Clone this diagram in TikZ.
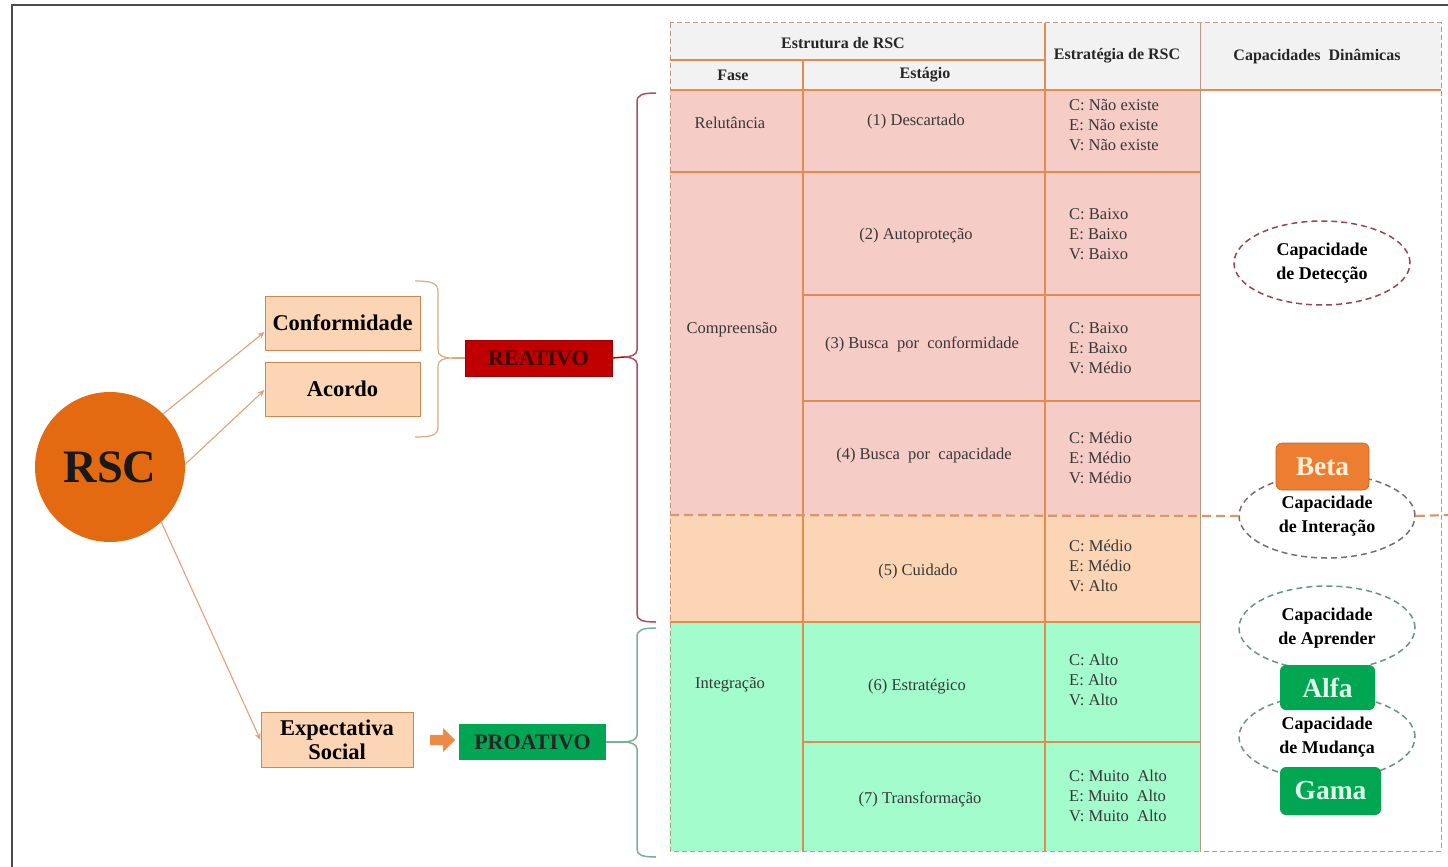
\documentclass[tikz,border=0pt]{standalone}
\usepackage{fontspec}
\setmainfont{Liberation Serif}
\usetikzlibrary{arrows.meta,shapes.arrows,shapes.geometric,calc}
\definecolor{peach}{RGB}{252,213,180}
\definecolor{boxline}{RGB}{205,135,85}
\definecolor{pinkc}{RGB}{246,204,198}
\definecolor{greenc}{RGB}{163,252,204}
\definecolor{hdrgray}{RGB}{242,242,242}
\definecolor{gridor}{RGB}{228,140,80}
\definecolor{dashbr}{RGB}{190,150,130}
\definecolor{darkred}{RGB}{192,0,0}
\definecolor{dgreen}{RGB}{0,166,81}
\definecolor{orng}{RGB}{237,125,49}
\definecolor{rscor}{RGB}{228,106,18}
\definecolor{arrowc}{RGB}{225,160,120}
\definecolor{bracetan}{RGB}{215,170,130}
\definecolor{bracered}{RGB}{170,80,95}
\definecolor{bracegrn}{RGB}{120,175,150}
\definecolor{celltext}{RGB}{55,55,55}
\definecolor{sepdash}{RGB}{215,150,110}
\definecolor{elldet}{RGB}{150,70,80}
\definecolor{ellint}{RGB}{120,110,105}
\definecolor{ellgrn}{RGB}{100,150,130}
\definecolor{betatext}{RGB}{255,240,220}
\definecolor{greentext}{RGB}{225,255,235}
\definecolor{reattext}{RGB}{60,5,5}
\begin{document}
\begin{tikzpicture}[x=1pt,y=-1pt,
  lbox/.style={draw=boxline,line width=1pt,fill=peach,inner sep=0pt,font=\fontsize{22.5}{24}\selectfont\bfseries,align=center},
  tag/.style={inner sep=0pt,font=\fontsize{22}{24}\selectfont\bfseries,text=black!85},
  hdr/.style={inner sep=0pt,font=\fontsize{16}{18}\selectfont\bfseries,text=black!85},
  cell/.style={inner sep=0pt,font=\fontsize{16.5}{18}\selectfont,text=celltext},
  strat/.style={inner sep=0pt,anchor=west,align=left,font=\fontsize{16.5}{20}\selectfont,text=celltext},
  grid/.style={draw=gridor,line width=1.1pt},
  tdash/.style={draw=dashbr,line width=1pt,dash pattern=on 5pt off 3pt},
  capell/.style={ellipse,draw,line width=1.5pt,dash pattern=on 6pt off 4pt,minimum width=176,minimum height=84,inner sep=0pt,align=center,font=\fontsize{18}{24}\selectfont\bfseries},
  badge/.style={rounded corners=6pt,inner sep=0pt,font=\fontsize{27.5}{30}\selectfont\bfseries},
  conn/.style={draw=arrowc,line width=1.1pt,-{Stealth[length=7pt,width=6pt]}},
  sep/.style={draw=sepdash,line width=2.2pt,dash pattern=on 9pt off 5pt}
]
\useasboundingbox (0,0) rectangle (1448,867);
% outer frame
\draw[line width=2.5pt,black!70] (12,867) -- (12,5) -- (1448,5);

% ---------- table fills ----------
\fill[hdrgray] (670,23) rectangle (1441,90);
\fill[pinkc] (670,90) rectangle (1200,515);
\fill[peach] (670,515) rectangle (1200,622);
\fill[greenc] (670,622) rectangle (1200,851);

% grid lines
\draw[grid] (670,60) -- (1045,60);
\draw[grid] (670,90) -- (1441,90);
\draw[grid] (670,172) -- (1200,172);
\draw[grid] (803,295) -- (1200,295);
\draw[grid] (803,401) -- (1200,401);
\draw[grid] (670,622) -- (1200,622);
\draw[grid] (803,742) -- (1200,742);
\draw[grid] (803,60) -- (803,851);
\draw[grid] (1045,23) -- (1045,851);

% dashed table borders
\draw[tdash] (670,23) rectangle (1200,851);
\draw[tdash] (1200,23) rectangle (1441,851);

% ---------- header text ----------
\node[hdr] (hEst) at (843,43) {Estrutura de RSC};
\node[hdr] (hFase) at (733,75) {Fase};
\node[hdr] (hEtg) at (925,75) {Estágio};
\node[hdr] (hStr) at (1117,56) {Estratégia de RSC};
\node[hdr] (hCap) at (1317,57) {Capacidades\ \ Dinâmicas};

% ---------- fase ----------
\node[cell] (f1) at (730,123) {Relutância};
\node[cell] (f2) at (732,330) {Compreensão};
\node[cell] (f3) at (730,685) {Integração};

% ---------- estagio ----------
\node[cell] (s1) at (916,122) {(1) Descartado};
\node[cell] (s2) at (916,236) {(2) Autoproteção};
\node[cell] (s3) at (922,344) {(3) Busca\ \ por\ \ conformidade};
\node[cell] (s4) at (924,456) {(4) Busca\ \ por\ \ capacidade};
\node[cell] (s5) at (918,572) {(5) Cuidado};
\node[cell] (s6) at (917,687) {(6) Estratégico};
\node[cell] (s7) at (920,799) {(7) Transformação};

% ---------- estrategia ----------
\node[strat] (e1) at (1069,125) {C: Não existe\\E: Não existe\\V: Não existe};
\node[strat] (e2) at (1069,234) {C: Baixo\\E: Baixo\\V: Baixo};
\node[strat] (e3) at (1069,348) {C: Baixo\\E: Baixo\\V: Médio};
\node[strat] (e4) at (1069,458) {C: Médio\\E: Médio\\V: Médio};
\node[strat] (e5) at (1069,566) {C: Médio\\E: Médio\\V: Alto};
\node[strat] (e6) at (1069,680) {C: Alto\\E: Alto\\V: Alto};
\node[strat] (e7) at (1069,796) {C: Muito\ \ Alto\\E: Muito\ \ Alto\\V: Muito\ \ Alto};

% ---------- capacidades ----------
\node[capell,draw=elldet] (cDet) at (1322,263) {Capacidade\\de Detecção};
\node[capell,draw=ellint] (cInt) at (1327,516) {Capacidade\\de Interação};
\node[capell,draw=ellgrn] (cApr) at (1327,628) {Capacidade\\de Aprender};
\node[capell,draw=ellgrn] (cMud) at (1327,737) {Capacidade\\de Mudança};

% dashed separator between phases
\coordinate (dL) at (670,515);
\coordinate (dR) at (1448,515);
\draw[sep] (dL) -- (cInt.west);
\draw[sep] (cInt.east) -- (dR);

\node[badge,fill=orng,draw=orng!80!black,line width=0.6pt,minimum width=93,minimum height=47,text=betatext] (beta) at (1322.5,466.5) {Beta};
\node[badge,fill=dgreen,minimum width=95,minimum height=45,text=greentext] (alfa) at (1327.5,687.5) {Alfa};
\node[badge,fill=dgreen,minimum width=101,minimum height=48,text=greentext] (gama) at (1330.5,791) {Gama};

% ---------- left part ----------
\node[circle,fill=rscor,minimum size=150,inner sep=0pt,font=\fontsize{46.5}{50}\selectfont\bfseries,text=black!90] (rsc) at (110,467) {RSC};
\node[lbox,minimum width=155,minimum height=54] (conf) at (342.5,323) {Conformidade};
\node[lbox,minimum width=155,minimum height=54] (acor) at (342.5,389) {Acordo};
\node[lbox,minimum width=152,minimum height=55,font=\fontsize{22.5}{24}\selectfont\bfseries] (expe) at (337,740) {Expectativa\\Social};

\node[tag,fill=darkred,draw=darkred!80!black,minimum width=147,minimum height=36,text=reattext] (reat) at (538.5,358) {REATIVO};
\node[tag,fill=dgreen,minimum width=147,minimum height=36] (proa) at (532.5,742) {PROATIVO};

\node[single arrow,fill=orng!90,draw=none,minimum width=24,minimum height=25,single arrow head extend=3pt,inner sep=2pt] (barrow) at (440,740) {};

\draw[conn] (rsc.45) -- ([yshift=-9pt]conf.west);
\draw[conn] (rsc.2) -- ([yshift=-1pt]acor.west);
\draw[conn] (rsc.-47) -- (expe.west);

% small brace
\coordinate (b1tip) at (452,358);
\draw[draw=bracetan,line width=1.2pt] (415,281) .. controls (432,281) and (438,283) .. (438,292) -- (438,350) .. controls (438,356) and (444,358) .. (b1tip) .. controls (444,358) and (438,360) .. (438,366) -- (438,427) .. controls (438,435) and (432,437) .. (415,437);
\draw[draw=bracetan,line width=1.2pt] (b1tip) -- (reat.west);

% red brace
\coordinate (b2tip) at (624,357);
\draw[draw=bracered,line width=1.5pt] (656,93) .. controls (642,93) and (637,95) .. (637,102) -- (637,350) .. controls (637,355) and (630,357) .. (b2tip) .. controls (630,357) and (637,359) .. (637,364) -- (637,614) .. controls (637,620) and (642,622) .. (656,622);
\draw[draw=darkred,line width=1.5pt] (reat.east) -- (b2tip);

% green brace
\coordinate (b3tip) at (624,742);
\draw[draw=bracegrn,line width=1.5pt] (656,628) .. controls (642,628) and (637,630) .. (637,637) -- (637,735) .. controls (637,740) and (630,742) .. (b3tip) .. controls (630,742) and (637,744) .. (637,749) -- (637,849) .. controls (637,855) and (642,857) .. (656,857);
\draw[draw=bracegrn,line width=1.5pt] (proa.east) -- (b3tip);
\end{tikzpicture}
\end{document}
